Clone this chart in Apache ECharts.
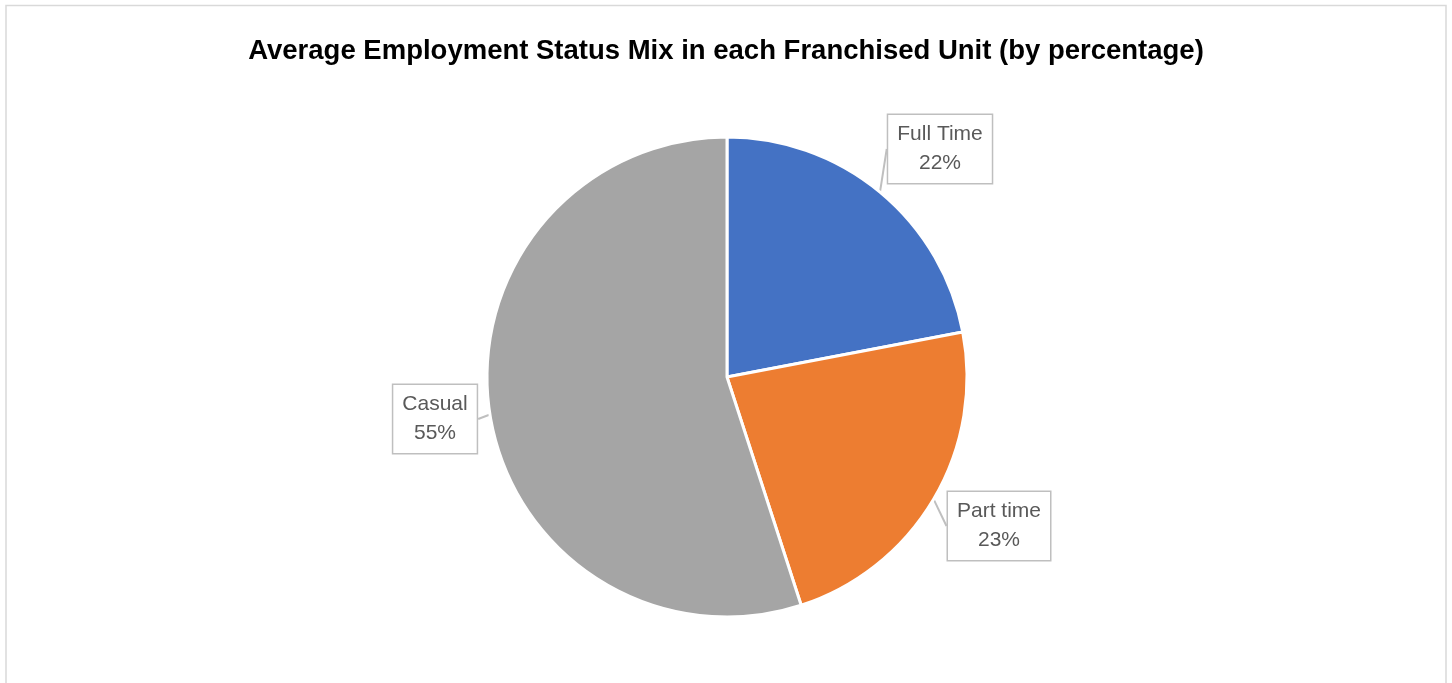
<!DOCTYPE html>
<html>
<head>
<meta charset="utf-8">
<script src="https://cdn.jsdelivr.net/npm/echarts@6/dist/echarts.min.js"></script>
<style>
  html, body { margin: 0; padding: 0; background: #ffffff; }
  #chart { width: 1452px; height: 683px; }
</style>
</head>
<body>
<div id="chart"></div>
<script>
// Employment status mix, percent of staff per franchised unit
const categories = ['Full Time', 'Part time', 'Casual'];
const shares = [22, 23, 55];
const sliceColors = ['#4472C4', '#ED7D31', '#A5A5A5'];

// Callout box centres for each slice label
const calloutCentres = [[940, 149], [999, 526], [435, 419]];

const chart = echarts.init(document.getElementById('chart'), null, { renderer: 'canvas' });

const data = categories.map((name, i) => ({
  name: name,
  value: shares[i],
  itemStyle: { color: sliceColors[i] }
}));

chart.setOption({
  backgroundColor: '#ffffff',
  animation: false,
  title: {
    text: 'Average Employment Status Mix in each Franchised Unit (by percentage)',
    left: 'center',
    top: 32,
    textStyle: {
      fontFamily: 'Liberation Sans, Arial, sans-serif',
      fontWeight: 'bold',
      fontSize: 27.5,
      color: '#000000'
    }
  },
  graphic: [{
    type: 'rect',
    shape: { x: 6, y: 5.5, width: 1440, height: 700 },
    style: { fill: 'none', stroke: '#d9d9d9', lineWidth: 1.5 },
    silent: true
  }],
  series: [{
    type: 'pie',
    center: [727, 377],
    radius: 240,
    startAngle: 90,
    clockwise: true,
    data: data,
    itemStyle: { borderColor: '#ffffff', borderWidth: 3 },
    label: {
      show: true,
      formatter: '{b}\n{c}%',
      fontFamily: 'Liberation Sans, Arial, sans-serif',
      fontSize: 21,
      lineHeight: 29,
      color: '#595959',
      align: 'center',
      backgroundColor: '#ffffff',
      borderColor: '#bfbfbf',
      borderWidth: 1.5,
      padding: [5, 9]
    },
    labelLine: {
      show: true,
      length: 0,
      length2: 0,
      lineStyle: { color: '#bfbfbf', width: 2 }
    },
    labelLayout: function (params) {
      const c = calloutCentres[params.dataIndex];
      return { x: c[0], y: c[1], align: 'center', verticalAlign: 'middle' };
    }
  }]
});
</script>
</body>
</html>
